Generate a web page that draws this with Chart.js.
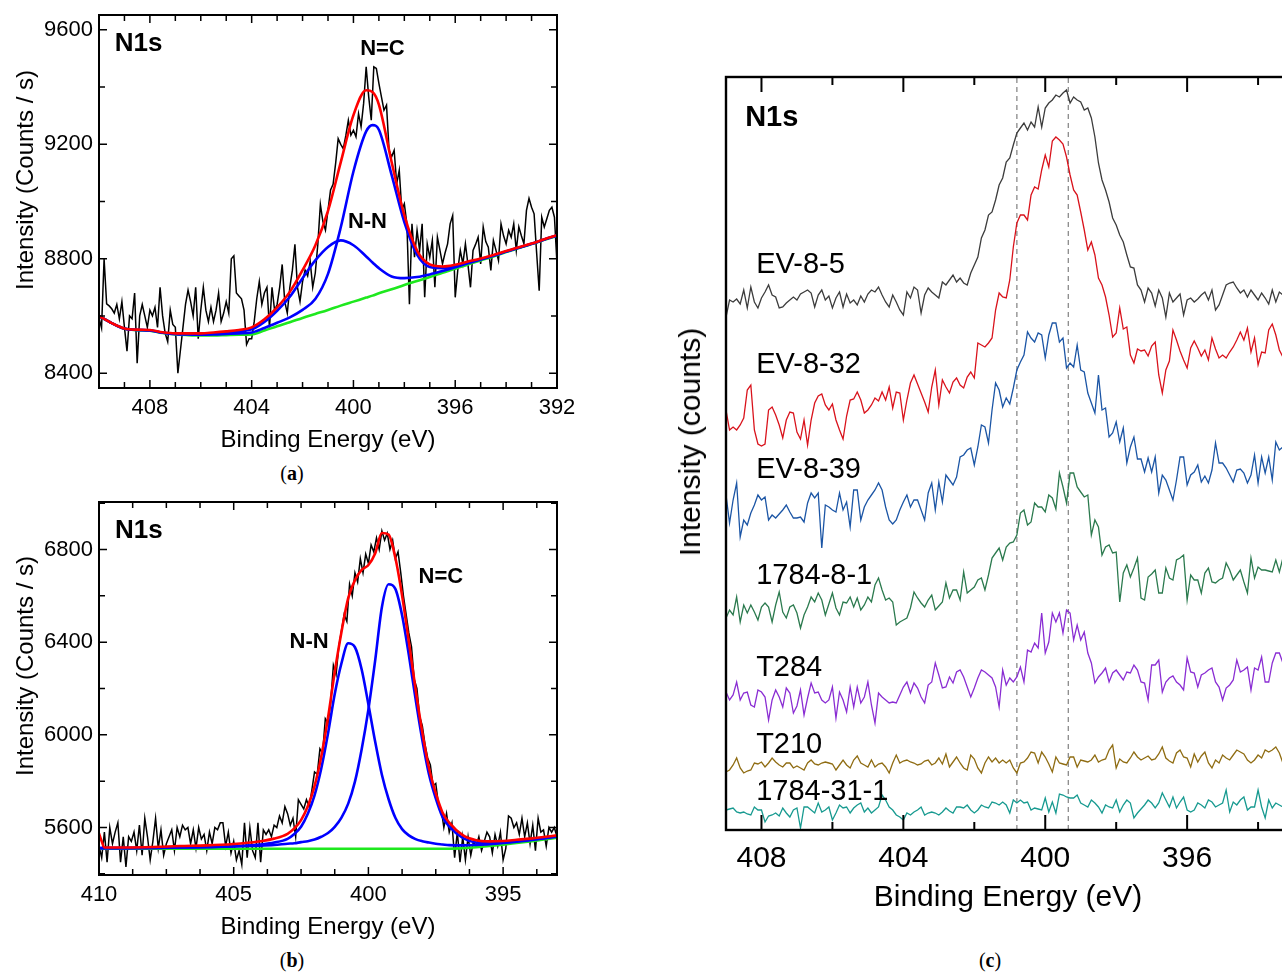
<!DOCTYPE html>
<html>
<head>
<meta charset="utf-8">
<title>N1s XPS spectra</title>
<script src="https://cdn.jsdelivr.net/npm/chart.js@4.4.1/dist/chart.umd.min.js"></script>
<style>
  html, body { margin: 0; padding: 0; background: #fff; overflow: hidden; }
  #page { position: relative; width: 1282px; height: 972px; overflow: hidden; font-family: "Liberation Sans", Arial, sans-serif; }
  .panel { position: absolute; }
  .ytitle { position: absolute; white-space: nowrap; color: #000; transform: translate(-50%, -50%) rotate(-90deg); }
  .caption { position: absolute; font-family: "Liberation Serif", "Times New Roman", serif; font-size: 20px; transform: translate(-50%, -50%); }
</style>
</head>
<body>
<div id="page">
  <canvas id="chartA" class="panel" width="580" height="460" style="left:0px;top:0px"></canvas>
  <canvas id="chartB" class="panel" width="580" height="460" style="left:0px;top:485px"></canvas>
  <canvas id="chartC" class="panel" width="680" height="880" style="left:640px;top:60px"></canvas>
  <div class="ytitle" style="left:25px;top:180px;font-size:24px">Intensity (Counts / s)</div>
  <div class="ytitle" style="left:25px;top:666px;font-size:24px">Intensity (Counts / s)</div>
  <div class="ytitle" style="left:690px;top:442px;font-size:30px">Intensity (counts)</div>
  <div class="caption" style="left:292px;top:473px">(<b>a</b>)</div>
  <div class="caption" style="left:292px;top:960px">(<b>b</b>)</div>
  <div class="caption" style="left:990px;top:960px">(<b>c</b>)</div>
</div>
<script>
// ---------- panel (a) : measured spectrum, 410.0 -> 392.0 eV every 0.1 eV ----------
const startA = 410.0;
const countsA = [
  8593, 8558, 8800, 8642, 8635, 8625, 8610, 8640, 8590, 8650,
  8560, 8477, 8600, 8590, 8680, 8435, 8600, 8640, 8600, 8560,
  8620, 8600, 8630, 8560, 8700, 8600, 8540, 8510, 8620, 8570,
  8560, 8400, 8480, 8560, 8640, 8690, 8650, 8600, 8700, 8520,
  8620, 8700, 8620, 8580, 8630, 8580, 8620, 8680, 8580, 8610,
  8650, 8610, 8800, 8810, 8680, 8670, 8660, 8620, 8500, 8520,
  8520, 8580, 8660, 8720, 8640, 8680, 8700, 8560, 8700, 8620,
  8640, 8700, 8780, 8650, 8610, 8700, 8760, 8850, 8700, 8650,
  8720, 8760, 8740, 8790, 8700, 8750, 8850, 8990, 8930, 8900,
  8970, 9040, 9060, 9133, 9220, 9200, 9185, 9230, 9284, 9232,
  9249, 9226, 9307, 9261, 9343, 9471, 9366, 9284, 9471, 9465,
  9413, 9366, 9319, 9337, 9179, 9156, 9179, 9062, 9109, 8969,
  8992, 8922, 8641, 8922, 8805, 8899, 8829, 8922, 8665, 8852,
  8805, 8864, 8700, 8875, 8829, 8782, 8820, 8852, 8922, 8951,
  8665, 8760, 8829, 8782, 8852, 8780, 8700, 8829, 8850, 8875,
  8782, 8911, 8860, 8840, 8759, 8864, 8830, 8794, 8922, 8880,
  8852, 8899, 8875, 8922, 8829, 8911, 8880, 8852, 8969, 9011,
  8980, 8957, 8820, 8688, 8945, 8911, 8940, 8969, 8980, 8945,
  8782
];

// fitted curves (a)
const fitEnergyA = [410, 409.5, 409, 408.5, 408, 407.5, 407, 406.5, 406, 405.5, 405, 404.5, 404, 403.5, 403, 402.5,
  402, 401.5, 401, 400.5, 400, 399.5, 399.25, 399, 398.5, 398, 397.5, 397, 396.5, 396, 395.5, 395, 394.5, 394, 393.5, 393, 392.5, 392];
const backgroundA = [8600, 8575, 8555, 8550, 8548, 8540, 8535, 8533, 8532, 8532, 8533, 8534, 8535, 8549, 8564, 8578,
  8593, 8607, 8621, 8636, 8650, 8664, 8671, 8679, 8693, 8708, 8722, 8736, 8751, 8765, 8780, 8794, 8808, 8823, 8837, 8851, 8866, 8880];
const peakNNA = [8600, 8575, 8556, 8551, 8550, 8542, 8538, 8537, 8537, 8539, 8542, 8546, 8553, 8579, 8618, 8667,
  8732, 8794, 8841, 8864, 8847, 8808, 8787, 8767, 8738, 8732, 8736, 8745, 8757, 8770, 8784, 8797, 8810, 8825, 8838, 8852, 8867, 8881];
const peakNCA = [8600, 8575, 8555, 8551, 8549, 8541, 8536, 8535, 8534, 8535, 8537, 8539, 8542, 8558, 8576, 8595,
  8621, 8659, 8747, 8909, 9105, 9245, 9267, 9251, 9093, 8928, 8814, 8771, 8767, 8774, 8786, 8798, 8811, 8825, 8839, 8852, 8867, 8881];
const envelopeA = [8600, 8575, 8556, 8552, 8551, 8543, 8539, 8539, 8539, 8542, 8546, 8551, 8560, 8588, 8630, 8684,
  8760, 8846, 8967, 9137, 9302, 9389, 9383, 9339, 9138, 8952, 8828, 8780, 8773, 8779, 8790, 8801, 8813, 8827, 8840, 8853, 8868, 8882];
const xTicksA = [392, 393, 394, 395, 396, 397, 398, 399, 400, 401, 402, 403, 404, 405, 406, 407, 408, 409, 410];
const yTicksA = [8400, 8600, 8800, 9000, 9200, 9400, 9600];

// ---------- panel (b) : measured spectrum, 410.0 -> 393.0 eV every 0.1 eV ----------
const startB = 410.0;
const countsB = [
  5520, 5470, 5580, 5450, 5600, 5530, 5580, 5620, 5450, 5560,
  5430, 5560, 5540, 5580, 5500, 5610, 5480, 5640, 5560, 5460,
  5540, 5640, 5510, 5590, 5480, 5530, 5560, 5590, 5500, 5600,
  5560, 5610, 5590, 5600, 5530, 5590, 5510, 5600, 5550, 5570,
  5500, 5580, 5530, 5600, 5590, 5620, 5620, 5520, 5580, 5490,
  5540, 5460, 5500, 5440, 5620, 5470, 5600, 5500, 5470, 5620,
  5450, 5590, 5570, 5590, 5560, 5610, 5600, 5650, 5620, 5690,
  5660, 5610, 5640, 5560, 5720, 5700, 5680, 5720, 5690, 5760,
  5840, 5830, 5940, 5920, 6070, 6050, 6140, 6300, 6260, 6380,
  6450, 6520, 6490, 6650, 6600, 6700, 6660, 6760, 6700, 6780,
  6740, 6820, 6790, 6850, 6800, 6880, 6840, 6870, 6800, 6840,
  6760, 6790, 6700, 6600, 6520, 6440, 6380, 6240, 6200, 6080,
  6040, 5960, 5900, 5870, 5780, 5790, 5700, 5680, 5600, 5660,
  5580, 5620, 5470, 5580, 5450, 5560, 5460, 5560, 5480, 5540,
  5520, 5560, 5500, 5540, 5580, 5560, 5490, 5570, 5520, 5580,
  5460, 5510, 5650, 5640, 5600, 5620, 5570, 5640, 5560, 5620,
  5530, 5610, 5500, 5640, 5580, 5590, 5520, 5600, 5580, 5600,
  5560
];

// fitted curves (b)
const fitEnergyB = [410, 409.9, 409.8, 409, 408, 407, 406, 405, 404.5, 404, 403.5, 403, 402.75, 402.5, 402.25, 402,
  401.75, 401.5, 401.25, 401, 400.75, 400.5, 400.25, 400, 399.75, 399.5, 399.25, 399, 398.75, 398.5, 398.25, 398,
  397.75, 397.5, 397.25, 397, 396.5, 396, 395.5, 395, 394.5, 394, 393.5, 393];
const backgroundB = [5508, 5508, 5508, 5508, 5508, 5508, 5508, 5508, 5508, 5508, 5508, 5508, 5508, 5508, 5508, 5508,
  5508, 5508, 5508, 5508, 5508, 5508, 5508, 5508, 5508, 5508, 5508, 5508, 5508, 5508, 5508, 5508,
  5508, 5508, 5508, 5508, 5511, 5515, 5520, 5526, 5533, 5540, 5548, 5556];
const peakNNB = [5511, 5511, 5511, 5511, 5512, 5514, 5516, 5519, 5522, 5527, 5535, 5551, 5572, 5603, 5659, 5739,
  5855, 6006, 6176, 6309, 6395, 6378, 6282, 6131, 5971, 5828, 5722, 5642, 5593, 5566, 5550, 5541,
  5535, 5530, 5527, 5524, 5523, 5525, 5528, 5533, 5539, 5545, 5553, 5560];
const peakNCB = [5511, 5511, 5511, 5511, 5512, 5514, 5515, 5518, 5520, 5522, 5525, 5530, 5532, 5537, 5541, 5548,
  5560, 5576, 5603, 5643, 5703, 5798, 5938, 6110, 6320, 6551, 6650, 6630, 6516, 6345, 6155, 5978,
  5829, 5726, 5646, 5605, 5555, 5535, 5532, 5535, 5541, 5547, 5554, 5562];
const envelopeB = [5575, 5540, 5514, 5514, 5516, 5520, 5523, 5529, 5534, 5541, 5552, 5573, 5596, 5632, 5692, 5779,
  5907, 6074, 6271, 6444, 6590, 6668, 6712, 6733, 6783, 6871, 6864, 6764, 6601, 6403, 6197, 6011,
  5856, 5748, 5665, 5621, 5567, 5545, 5540, 5542, 5547, 5552, 5559, 5566];
const xTicksB = [393.75, 395, 396.25, 397.5, 398.75, 400, 401.25, 402.5, 403.75, 405, 406.25, 407.5, 408.75, 410];
const yTicksB = [5400, 5600, 5800, 6000, 6200, 6400, 6600, 6800, 7000];

// ---------- panel (c) : stacked spectra, 409.0 -> 393.1 eV every 0.1 eV ----------
const startC = 409.0;
const sampleNames = ['EV-8-5', 'EV-8-32', 'EV-8-39', '1784-8-1', 'T284', 'T210', '1784-31-1'];
const ev85 = [
  513, 530, 528, 531, 526, 540, 522, 543, 528, 522,
  532, 538, 545, 535, 533, 522, 523, 527, 530, 533,
  530, 536, 538, 540, 537, 523, 535, 540, 530, 534,
  522, 532, 538, 523, 536, 527, 530, 525, 534, 528,
  536, 540, 538, 543, 535, 528, 523, 535, 528, 520,
  515, 538, 532, 543, 540, 517, 535, 542, 538, 535,
  532, 548, 545, 550, 555, 548, 552, 547, 545, 557,
  565, 573, 592, 600, 615, 618, 630, 645, 652, 668,
  672, 685, 697, 702, 707, 700, 708, 703, 723, 703,
  722, 727, 730, 735, 733, 737, 740, 727, 733, 730,
  728, 720, 722, 712, 693, 667, 650, 640, 628, 612,
  605, 595, 588, 575, 563, 562, 545, 540, 528, 542,
  537, 524, 540, 532, 513, 537, 528, 532, 536, 515,
  530, 532, 528, 531, 535, 538, 530, 540, 520, 525,
  535, 545, 547, 548, 542, 537, 540, 533, 540, 535,
  530, 537, 532, 526, 540, 528, 538, 535, 537, 535
];
const ev832 = [
  420, 400, 403, 400, 405, 412, 440, 445, 400, 386,
  384, 386, 420, 423, 415, 405, 392, 410, 418, 417,
  398, 391, 410, 385, 410, 427, 434, 436, 425, 420,
  426, 410, 400, 391, 414, 430, 431, 438, 430, 417,
  420, 425, 432, 429, 438, 430, 443, 422, 438, 437,
  410, 430, 447, 455, 446, 437, 428, 418, 443, 460,
  425, 450, 443, 437, 448, 452, 445, 442, 453, 458,
  452, 487, 485, 483, 487, 492, 520, 537, 533, 532,
  550, 583, 607, 615, 615, 610, 635, 643, 641, 660,
  675, 663, 689, 693, 690, 686, 673, 655, 640, 635,
  618, 600, 580, 588, 575, 552, 545, 533, 515, 493,
  497, 522, 501, 503, 475, 467, 481, 479, 480, 474,
  484, 488, 455, 437, 460, 469, 500, 490, 479, 470,
  462, 482, 489, 482, 474, 480, 470, 492, 481, 472,
  475, 472, 478, 483, 490, 498, 490, 502, 478, 492,
  465, 478, 477, 500, 506, 495, 480, 473, 490, 495
];
const ev839 = [
  335, 307, 330, 347, 293, 310, 305, 317, 325, 335,
  330, 333, 310, 315, 312, 316, 320, 325, 318, 312,
  312, 313, 308, 327, 337, 332, 337, 282, 325, 323,
  320, 318, 337, 320, 328, 303, 340, 340, 310, 323,
  330, 335, 340, 347, 340, 323, 310, 306, 310, 320,
  328, 335, 323, 330, 330, 320, 310, 337, 347, 320,
  348, 328, 355, 350, 345, 353, 373, 375, 380, 382,
  365, 383, 405, 403, 387, 420, 447, 440, 423, 432,
  426, 442, 460, 468, 475, 498, 492, 488, 497, 495,
  472, 495, 507, 507, 488, 492, 462, 467, 463, 485,
  460, 458, 437, 427, 417, 455, 420, 422, 393, 397,
  408, 388, 402, 367, 383, 393, 371, 371, 358, 372,
  358, 373, 337, 355, 350, 340, 330, 350, 373, 373,
  345, 355, 358, 365, 348, 354, 347, 360, 387, 367,
  367, 362, 355, 348, 360, 361, 357, 347, 355, 375,
  347, 373, 357, 373, 350, 388, 380, 383, 378, 385
];
const s178481 = [
  212, 220, 215, 233, 208, 225, 217, 225, 218, 210,
  223, 227, 223, 208, 225, 238, 218, 212, 223, 225,
  217, 202, 215, 223, 233, 228, 237, 230, 215, 226,
  237, 222, 215, 228, 227, 233, 223, 232, 220, 225,
  233, 228, 245, 252, 240, 230, 232, 228, 205, 208,
  210, 212, 222, 238, 232, 227, 223, 230, 235, 220,
  224, 228, 247, 232, 240, 240, 230, 258, 237, 240,
  243, 250, 252, 240, 255, 272, 277, 282, 270, 283,
  287, 288, 295, 317, 320, 305, 308, 327, 323, 323,
  318, 335, 332, 321, 357, 343, 327, 357, 357, 343,
  338, 333, 335, 295, 310, 303, 275, 283, 285, 277,
  278, 228, 257, 265, 253, 262, 272, 232, 230, 253,
  256, 260, 237, 237, 262, 252, 250, 270, 272, 275,
  230, 255, 250, 250, 237, 257, 262, 248, 247, 250,
  252, 267, 260, 250, 255, 260, 248, 237, 272, 252,
  263, 260, 260, 259, 258, 270, 258, 272, 262, 265
];
const t284 = [
  138, 130, 135, 148, 130, 137, 138, 125, 123, 140,
  138, 133, 110, 130, 140, 133, 123, 142, 137, 117,
  124, 140, 115, 132, 147, 137, 138, 130, 127, 130,
  143, 112, 138, 130, 118, 143, 123, 143, 127, 133,
  148, 125, 107, 137, 133, 130, 127, 128, 127, 135,
  143, 148, 137, 147, 142, 133, 127, 145, 148, 167,
  155, 142, 143, 153, 147, 158, 160, 153, 143, 133,
  142, 152, 160, 158, 155, 152, 143, 123, 160, 145,
  152, 148, 153, 163, 148, 180, 178, 187, 182, 217,
  177, 188, 217, 208, 217, 197, 220, 217, 190, 205,
  190, 198, 177, 167, 147, 153, 157, 162, 148, 157,
  160, 155, 150, 158, 157, 165, 160, 148, 147, 130,
  165, 165, 170, 138, 148, 152, 154, 148, 145, 140,
  172, 158, 157, 143, 155, 157, 160, 162, 148, 143,
  130, 142, 145, 150, 170, 158, 160, 163, 140, 162,
  160, 173, 148, 148, 167, 177, 177, 167, 172, 170
];
const t210 = [
  58, 60, 65, 72, 62, 57, 59, 60, 67, 66,
  68, 63, 67, 72, 68, 65, 63, 67, 67, 62,
  64, 62, 60, 67, 70, 66, 65, 67, 68, 67,
  66, 60, 65, 70, 65, 62, 70, 74, 67, 65,
  63, 70, 63, 66, 67, 63, 57, 67, 75, 67,
  69, 70, 68, 67, 65, 66, 69, 70, 65, 67,
  72, 66, 76, 63, 68, 73, 67, 62, 60, 75,
  71, 62, 57, 67, 73, 68, 72, 67, 70, 67,
  70, 62, 57, 67, 68, 72, 78, 77, 67, 78,
  73, 66, 58, 73, 67, 66, 65, 73, 73, 63,
  70, 69, 68, 70, 75, 68, 70, 71, 80, 85,
  62, 71, 68, 67, 72, 78, 73, 70, 72, 74,
  70, 71, 76, 83, 72, 69, 67, 77, 80, 73,
  72, 63, 76, 68, 74, 78, 67, 62, 70, 67,
  75, 72, 70, 75, 80, 78, 76, 70, 67, 70,
  75, 72, 80, 78, 80, 83, 77, 67, 72, 75
];
const s1784311 = [
  20, 21, 22, 18, 17, 18, 16, 15, 23, 20,
  20, 8, 14, 15, 17, 14, 22, 17, 13, 20,
  22, 2, 23, 23, 20, 17, 27, 18, 20, 23,
  10, 17, 25, 22, 23, 17, 22, 25, 27, 18,
  22, 17, 20, 23, 35, 30, 23, 20, 15, 13,
  10, 17, 15, 18, 20, 23, 15, 17, 18, 17,
  15, 18, 22, 19, 17, 23, 23, 22, 25, 20,
  17, 20, 25, 23, 22, 28, 27, 25, 28, 25,
  17, 30, 27, 30, 27, 28, 20, 22, 21, 20,
  32, 18, 28, 17, 36, 35, 33, 32, 32, 35,
  27, 25, 23, 30, 27, 23, 17, 25, 23, 22,
  30, 18, 25, 30, 27, 12, 17, 21, 25, 30,
  27, 22, 27, 37, 30, 23, 33, 22, 28, 33,
  20, 18, 20, 27, 25, 22, 30, 28, 23, 25,
  27, 40, 18, 28, 25, 30, 33, 20, 23, 23,
  40, 23, 12, 30, 22, 27, 25, 23, 26, 24
];
const seriesC = [ev85, ev832, ev839, s178481, t284, t210, s1784311];
const colorsC = ['#3c3c3c', '#d9121b', '#1b55a5', '#2b7a4e', '#8a2dd3', '#8f6c12', '#179a90'];
const refLineEnergies = [400.8, 399.35];
const labelEnergyC = 408.15;
const labelLevelC = [565, 465, 360, 254, 162, 85, 38];
const xTicksC = [394, 396, 398, 400, 402, 404, 406, 408];

// ---------- helpers ----------
const FONT = '"Liberation Sans", Arial, sans-serif';
const RED = '#ff0000', BLUE = '#0000ff', GREEN = '#1ee81e';

function energyGrid(start, count) {
  return Array.from({ length: count }, (_, i) => Math.round((start - i * 0.1) * 10) / 10);
}
const toXY = (xs, ys) => xs.map((x, i) => ({ x: x, y: ys[i] }));

function isMultiple(v, step) {
  const r = v / step;
  return Math.abs(r - Math.round(r)) < 1e-6;
}

function fixedSize(size) {
  return (scale) => {
    if (scale.isHorizontal()) scale.height = size; else scale.width = size;
    scale.paddingTop = 0; scale.paddingBottom = 0; scale.paddingLeft = 0; scale.paddingRight = 0;
  };
}

function useTicks(list) {
  return (scale) => { scale.ticks = list.map((v) => ({ value: v })); };
}

// box around the plot and inward tick marks
const frameTicks = {
  id: 'frameTicks',
  afterDatasetsDraw(chart, args, o) {
    const { ctx, chartArea: a, scales: { x, y } } = chart;
    ctx.save();
    ctx.strokeStyle = '#000';
    ctx.lineWidth = o.tickWidth;
    ctx.beginPath();
    x.ticks.forEach((t) => {
      const len = isMultiple(t.value, o.xMajor) ? o.majorLen : o.minorLen;
      const px = x.getPixelForValue(t.value);
      ctx.moveTo(px, a.bottom); ctx.lineTo(px, a.bottom - len);
      ctx.moveTo(px, a.top); ctx.lineTo(px, a.top + len);
    });
    if (o.yMajor) {
      y.ticks.forEach((t) => {
        const len = isMultiple(t.value, o.yMajor) ? o.majorLen : o.minorLen;
        const py = y.getPixelForValue(t.value);
        ctx.moveTo(a.left, py); ctx.lineTo(a.left + len, py);
        ctx.moveTo(a.right, py); ctx.lineTo(a.right - len, py);
      });
    }
    ctx.stroke();
    ctx.lineWidth = o.frameWidth;
    ctx.strokeRect(a.left, a.top, a.right - a.left, a.bottom - a.top);
    ctx.restore();
  }
};

// text notes placed in data coordinates
const textNotes = {
  id: 'textNotes',
  afterDatasetsDraw(chart, args, o) {
    const { ctx, scales: { x, y } } = chart;
    ctx.save();
    ctx.fillStyle = '#000';
    ctx.textBaseline = 'middle';
    o.items.forEach((it) => {
      ctx.font = it.font;
      ctx.textAlign = it.align;
      ctx.fillText(it.text, x.getPixelForValue(it.ev), y.getPixelForValue(it.val));
    });
    ctx.restore();
  }
};

function baseOptions(cfg) {
  return {
    responsive: false,
    animation: false,
    events: [],
    elements: { point: { radius: 0 }, line: { tension: 0, fill: false } },
    layout: { padding: cfg.padding },
    plugins: {
      legend: { display: false },
      tooltip: { enabled: false },
      frameTicks: cfg.frame,
      textNotes: { items: cfg.notes }
    },
    scales: {
      x: {
        type: 'linear', reverse: true, min: cfg.xMin, max: cfg.xMax,
        afterBuildTicks: useTicks(cfg.xTicks),
        afterFit: fixedSize(cfg.xHeight),
        grid: { display: false, drawTicks: false }, border: { display: false },
        ticks: {
          autoSkip: false, maxRotation: 0,
          padding: cfg.tickPad, color: '#000', font: { family: FONT, size: cfg.tickSize },
          callback: (v) => (isMultiple(v, cfg.xLabelEvery) ? String(v) : '')
        },
        title: {
          display: true, text: 'Binding Energy (eV)', color: '#000',
          font: { family: FONT, size: cfg.titleSize }, padding: { top: 0, bottom: cfg.titlePad }
        }
      },
      y: {
        type: 'linear', min: cfg.yMin, max: cfg.yMax,
        afterBuildTicks: useTicks(cfg.yTicks),
        afterFit: fixedSize(cfg.yWidth),
        grid: { display: false, drawTicks: false }, border: { display: false },
        ticks: {
          display: cfg.yTicks.length > 0, autoSkip: false,
          padding: 6, color: '#000', font: { family: FONT, size: cfg.tickSize },
          callback: (v) => (isMultiple(v, cfg.yLabelEvery || 1) ? String(v) : '')
        }
      }
    }
  };
}

function fitSet(xs, ys, color, order) {
  return { data: toXY(xs, ys), borderColor: color, borderWidth: 2.6, order: order, cubicInterpolationMode: 'monotone' };
}

// ---------- chart (a) ----------
const energyA = energyGrid(startA, countsA.length);
new Chart(document.getElementById('chartA'), {
  type: 'line',
  data: {
    datasets: [
      fitSet(fitEnergyA, envelopeA, RED, 0),
      fitSet(fitEnergyA, peakNCA, BLUE, 1),
      fitSet(fitEnergyA, peakNNA, BLUE, 1),
      fitSet(fitEnergyA, backgroundA, GREEN, 2),
      { data: toXY(energyA, countsA), borderColor: '#000', borderWidth: 1.5, order: 3 }
    ]
  },
  options: baseOptions({
    padding: { left: 0, right: 23, top: 15, bottom: 0 },
    xMin: 392, xMax: 410, xTicks: xTicksA, xLabelEvery: 4, xHeight: 72,
    yMin: 8348, yMax: 9652, yTicks: yTicksA, yLabelEvery: 400, yWidth: 99,
    tickSize: 22, tickPad: 7, titleSize: 24, titlePad: 5,
    frame: { xMajor: 4, yMajor: 400, majorLen: 8, minorLen: 6, tickWidth: 1.5, frameWidth: 2 },
    notes: [
      { text: 'N1s', ev: 409.38, val: 9551, align: 'left', font: 'bold 26px ' + FONT },
      { text: 'N=C', ev: 398.86, val: 9532, align: 'center', font: 'bold 22px ' + FONT },
      { text: 'N-N', ev: 399.45, val: 8927, align: 'center', font: 'bold 22px ' + FONT }
    ]
  }),
  plugins: [frameTicks, textNotes]
});

// ---------- chart (b) ----------
const energyB = energyGrid(startB, countsB.length);
new Chart(document.getElementById('chartB'), {
  type: 'line',
  data: {
    datasets: [
      fitSet(fitEnergyB, envelopeB, RED, 0),
      fitSet(fitEnergyB, peakNCB, BLUE, 1),
      fitSet(fitEnergyB, peakNNB, BLUE, 1),
      fitSet(fitEnergyB, backgroundB, GREEN, 2),
      { data: toXY(energyB, countsB), borderColor: '#000', borderWidth: 1.5, order: 3 }
    ]
  },
  options: baseOptions({
    padding: { left: 0, right: 23, top: 17, bottom: 0 },
    xMin: 393, xMax: 410, xTicks: xTicksB, xLabelEvery: 5, xHeight: 70,
    yMin: 5395, yMax: 7005, yTicks: yTicksB, yLabelEvery: 400, yWidth: 99,
    tickSize: 22, tickPad: 7, titleSize: 24, titlePad: 3,
    frame: { xMajor: 5, yMajor: 400, majorLen: 8, minorLen: 6, tickWidth: 1.5, frameWidth: 2 },
    notes: [
      { text: 'N1s', ev: 409.41, val: 6879, align: 'left', font: 'bold 26px ' + FONT },
      { text: 'N=C', ev: 397.31, val: 6682, align: 'center', font: 'bold 22px ' + FONT },
      { text: 'N-N', ev: 402.2, val: 6402, align: 'center', font: 'bold 22px ' + FONT }
    ]
  }),
  plugins: [frameTicks, textNotes]
});

// ---------- chart (c) ----------
const yMaxC = 753;
const energyC = energyGrid(startC, ev85.length);
const datasetsC = seriesC.map((s, i) => ({
  data: toXY(energyC, s), borderColor: colorsC[i], borderWidth: 1.3
}));
refLineEnergies.forEach((e) => {
  datasetsC.push({
    data: [{ x: e, y: 0 }, { x: e, y: yMaxC }],
    borderColor: '#8a8a8a', borderWidth: 1.3, borderDash: [5, 4]
  });
});
const notesC = [{ text: 'N1s', ev: 408.46, val: 712, align: 'left', font: 'bold 29px ' + FONT }];
sampleNames.forEach((name, i) => {
  notesC.push({ text: name, ev: labelEnergyC, val: labelLevelC[i], align: 'left', font: '29px ' + FONT });
});
new Chart(document.getElementById('chartC'), {
  type: 'line',
  data: { datasets: datasetsC },
  options: baseOptions({
    padding: { left: 0, right: 30, top: 17, bottom: 0 },
    xMin: 393.1, xMax: 409, xTicks: xTicksC, xLabelEvery: 4, xHeight: 110,
    yMin: 0, yMax: yMaxC, yTicks: [], yWidth: 86,
    tickSize: 30, tickPad: 11, titleSize: 30, titlePad: 24,
    frame: { xMajor: 4, yMajor: 0, majorLen: 15, minorLen: 8, tickWidth: 2, frameWidth: 2.4 },
    notes: notesC
  }),
  plugins: [frameTicks, textNotes]
});
</script>
</body>
</html>
